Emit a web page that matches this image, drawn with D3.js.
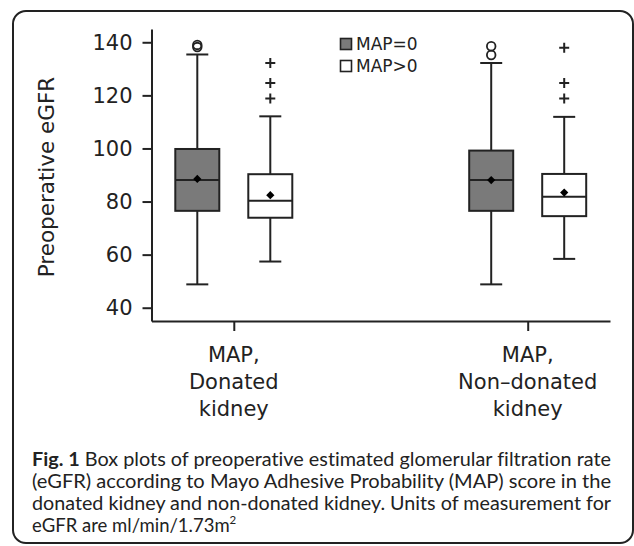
<!DOCTYPE html>
<html>
<head>
<meta charset="utf-8">
<script src="https://cdn.jsdelivr.net/npm/d3@7"></script>
<style>
  html, body { margin: 0; padding: 0; background: #fff; }
  svg { display: block; }
  .caption text { font-variant-ligatures: none; font-feature-settings: "liga" 0, "clig" 0; }
</style>
</head>
<body>
<svg id="chart" width="634" height="546"></svg>
<script>
// ---------------- data ----------------
const groups = ["MAP, Donated kidney", "MAP, Non–donated kidney"];
const groupLabelLines = [["MAP,", "Donated", "kidney"], ["MAP,", "Non–donated", "kidney"]];
const series = ["MAP=0", "MAP>0"];
const yTicks = [40, 60, 80, 100, 120, 140];

// values per series, one entry per group
const whiskerLow  = { "MAP=0": [48.8, 48.8],  "MAP>0": [57.4, 58.4] };
const quartile1   = { "MAP=0": [76.5, 76.5],  "MAP>0": [73.9, 74.5] };
const medians     = { "MAP=0": [88.1, 88.1],  "MAP>0": [80.3, 81.8] };
const quartile3   = { "MAP=0": [99.8, 99.2],  "MAP>0": [90.3, 90.4] };
const whiskerHigh = { "MAP=0": [135.4, 132.2], "MAP>0": [112.1, 111.9] };
const means       = { "MAP=0": [88.5, 88.1],  "MAP>0": [82.4, 83.4] };
const outliers    = { "MAP=0": [[138.2, 139.0], [135.2, 138.5]],
                      "MAP>0": [[118.8, 124.7, 132.2], [118.8, 124.7, 137.9]] };

const captionLines = [
  "Box plots of preoperative estimated glomerular filtration rate",
  "(eGFR) according to Mayo Adhesive Probability (MAP) score in the",
  "donated kidney and non-donated kidney. Units of measurement for",
  "eGFR are ml/min/1.73m"
];

// ---------------- drawing ----------------
const ink = "#222";
const svg = d3.select("#chart");

// frame
svg.append("rect")
  .attr("x", 13).attr("y", 11).attr("width", 620).attr("height", 532)
  .attr("rx", 13).attr("ry", 13)
  .attr("fill", "none").attr("stroke", ink).attr("stroke-width", 2);

const plotLeft = 151.5, plotRight = 610, plotTop = 29, plotBottom = 321;

const y = d3.scaleLinear().domain([35, 145]).range([plotBottom, plotTop]);
const x = d3.scalePoint().domain(groups).range([plotLeft, plotRight]).padding(0.28);
const xs = d3.scalePoint().domain(series).range([-36.5, 36.5]);
const boxW = 44, capW = 22;
const fills = { "MAP=0": "#7a7a7a", "MAP>0": "#ffffff" };

// axes
const yAxis = svg.append("g")
  .attr("transform", `translate(${plotLeft},0)`)
  .call(d3.axisLeft(y).tickValues(yTicks).tickSize(9).tickSizeOuter(0).tickPadding(10));
const xAxis = svg.append("g")
  .attr("transform", `translate(0,${plotBottom})`)
  .call(d3.axisBottom(x).tickSize(10).tickSizeOuter(0).tickFormat(""));

[yAxis, xAxis].forEach(g => {
  g.select(".domain").attr("stroke", ink).attr("stroke-width", 2);
  g.selectAll(".tick line").attr("stroke", ink).attr("stroke-width", 2);
});
yAxis.selectAll(".tick text")
  .attr("font-family", "DejaVu Sans").attr("font-size", 21).attr("fill", ink);

// x tick labels (multi-line)
groups.forEach((g, i) => {
  const t = svg.append("text")
    .attr("x", x(g)).attr("y", 0)
    .attr("text-anchor", "middle")
    .attr("font-family", "DejaVu Sans").attr("font-size", 21).attr("fill", ink);
  groupLabelLines[i].forEach((line, j) => {
    t.append("tspan").attr("x", x(g)).attr("y", 362 + j * 27).text(line);
  });
});

// y title
svg.append("text")
  .attr("transform", `translate(54,${(plotTop + plotBottom) / 2 + 2}) rotate(-90)`)
  .attr("text-anchor", "middle")
  .attr("font-family", "DejaVu Sans").attr("font-size", 21.5).attr("fill", ink)
  .text("Preoperative eGFR");

// boxes
const boxes = svg.append("g");
series.forEach(s => {
  groups.forEach((g, i) => {
    const cx = x(g) + xs(s);
    const bg = boxes.append("g");
    // whiskers
    bg.append("line").attr("x1", cx).attr("x2", cx)
      .attr("y1", y(whiskerHigh[s][i])).attr("y2", y(quartile3[s][i]))
      .attr("stroke", ink).attr("stroke-width", 2);
    bg.append("line").attr("x1", cx).attr("x2", cx)
      .attr("y1", y(quartile1[s][i])).attr("y2", y(whiskerLow[s][i]))
      .attr("stroke", ink).attr("stroke-width", 2);
    [whiskerHigh[s][i], whiskerLow[s][i]].forEach(v => {
      bg.append("line").attr("x1", cx - capW / 2).attr("x2", cx + capW / 2)
        .attr("y1", y(v)).attr("y2", y(v))
        .attr("stroke", ink).attr("stroke-width", 2);
    });
    // box
    bg.append("rect")
      .attr("x", cx - boxW / 2).attr("width", boxW)
      .attr("y", y(quartile3[s][i])).attr("height", y(quartile1[s][i]) - y(quartile3[s][i]))
      .attr("fill", fills[s]).attr("stroke", ink).attr("stroke-width", 2);
    // median
    bg.append("line").attr("x1", cx - boxW / 2).attr("x2", cx + boxW / 2)
      .attr("y1", y(medians[s][i])).attr("y2", y(medians[s][i]))
      .attr("stroke", ink).attr("stroke-width", 2);
    // mean
    bg.append("path")
      .attr("d", d3.symbol(d3.symbolSquare, 34)())
      .attr("transform", `translate(${cx},${y(means[s][i])}) rotate(45)`)
      .attr("fill", "#000");
    // outliers
    outliers[s][i].forEach(v => {
      if (s === "MAP=0") {
        bg.append("circle").attr("cx", cx).attr("cy", y(v)).attr("r", 4.3)
          .attr("fill", "none").attr("stroke", ink).attr("stroke-width", 1.8);
      } else {
        bg.append("path")
          .attr("d", "M-5,0H5M0,-5V5")
          .attr("transform", `translate(${cx},${y(v)})`)
          .attr("stroke", ink).attr("stroke-width", 2);
      }
    });
  });
});

// legend
const legend = svg.append("g").attr("transform", "translate(340,38)");
series.forEach((s, k) => {
  const row = legend.append("g").attr("transform", `translate(0,${k * 22})`);
  row.append("rect").attr("x", 0.5).attr("y", 0.5).attr("width", 11).attr("height", 11)
    .attr("fill", fills[s]).attr("stroke", ink).attr("stroke-width", 1.6);
  row.append("text").attr("x", 16).attr("y", 6).attr("dy", "0.35em")
    .attr("font-family", "DejaVu Sans").attr("font-size", 17).attr("fill", ink)
    .text(s);
});

// caption
const cap = svg.append("g").attr("class", "caption")
  .attr("font-family", "Lato").attr("font-size", 18.5).attr("fill", "#222");
captionLines.forEach((line, j) => {
  const t = cap.append("text").attr("x", 32).attr("y", 466 + j * 22);
  if (j === 0) {
    t.append("tspan").attr("font-weight", "bold").text("Fig. 1");
    t.append("tspan").text(" " + line);
  } else {
    t.append("tspan").text(line);
  }
  if (j === captionLines.length - 1) {
    t.append("tspan").attr("font-size", 11.5).attr("dy", -8).text("2");
  }
  if (j < captionLines.length - 1) {
    t.attr("textLength", 579).attr("lengthAdjust", "spacingAndGlyphs");
  }
});
</script>
</body>
</html>
